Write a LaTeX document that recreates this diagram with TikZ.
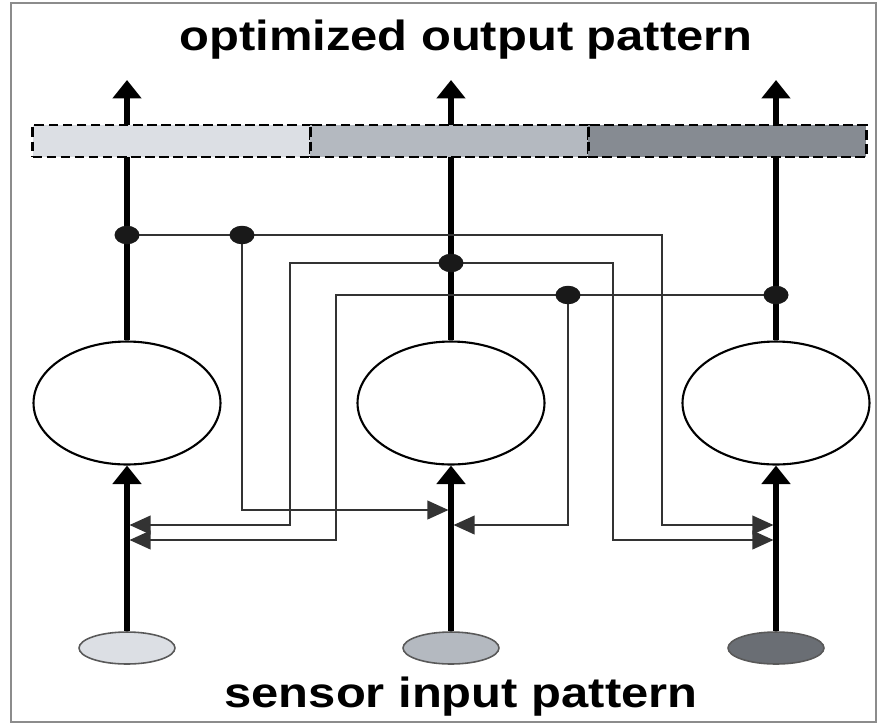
\documentclass[tikz,border=0pt]{standalone}
\usepackage{fontspec}
\setmainfont{Liberation Sans}
\usetikzlibrary{arrows.meta,positioning,shapes.geometric}
\definecolor{shadelight}{RGB}{220,223,228}
\definecolor{shademid}{RGB}{180,185,192}
\definecolor{shadedark}{RGB}{134,139,146}
\definecolor{sensordark}{RGB}{106,110,116}
\definecolor{framegray}{RGB}{140,140,140}

\begin{document}
\begin{tikzpicture}[x=0.02cm,y=-0.02cm,
    neuron/.style={ellipse,draw,line width=1.2pt,minimum width=3.74cm,minimum height=2.46cm,inner sep=0pt},
    sensor/.style={ellipse,draw=black!65,line width=0.9pt,minimum width=1.92cm,minimum height=0.64cm,inner sep=0pt},
    outcell/.style={rectangle,draw,dash pattern=on 5.5pt off 2.5pt,line width=1.5pt,minimum width=5.56cm,minimum height=0.64cm,inner sep=0pt,outer sep=0pt},
    junction/.style={ellipse,fill=black!90,minimum width=0.5cm,minimum height=0.37cm,inner sep=0pt},
    axon/.style={line width=3pt,-{Triangle[length=10.5pt,width=16pt]}},
    lateral/.style={black!80,line width=1.4pt,shorten >=1.4pt,-{Triangle[length=12pt,width=10.5pt]}},
    caption/.style={font=\fontsize{24}{28}\selectfont\bfseries,xscale=1.16}]
      \useasboundingbox (0,0) rectangle (883,725);
      \draw[framegray,line width=1.2pt] (11,3) rectangle (876,722);
      \foreach \i/\x/\s in {1/127/shadelight,2/451/shademid,3/776/sensordark}{
        \node[neuron] (n\i) at (\x,403) {};
        \node[sensor,fill=\s] (s\i) at (\x,648) {};
        \coordinate (t\i) at (\x,80);
        \draw[axon] (s\i) -- (n\i);
        \draw[axon] (n\i) -- (t\i);
      }
      \node[outcell,fill=shadelight] (o1) at (171.5,141) {};
      \node[outcell,fill=shademid,right=0pt of o1] (o2) {};
      \node[outcell,fill=shadedark,right=0pt of o2] (o3) {};
      \coordinate (d1) at (127,235);
      \coordinate (b1) at (242,235);
      \coordinate (d2) at (451,263);
      \coordinate (d3) at (776,295);
      \coordinate (b3) at (568,295);
      \coordinate (i1a) at (127,525);
      \coordinate (i1b) at (127,540);
      \coordinate (i2a) at (451,510);
      \coordinate (i2b) at (451,525);
      \coordinate (i3a) at (776,525);
      \coordinate (i3b) at (776,540);
      \draw[lateral] (d1) -- (662,235) |- (i3a);
      \draw[lateral] (b1) |- (i2a);
      \draw[lateral] (d2) -- (290,263) |- (i1a);
      \draw[lateral] (d2) -- (613,263) |- (i3b);
      \draw[lateral] (d3) -- (336,295) |- (i1b);
      \draw[lateral] (b3) |- (i2b);
      \foreach \p in {d1,b1,d2,d3,b3}
        \node[junction] (j\p) at (\p) {};
      \node[caption] (outlabel) at (466,40) {optimized output pattern};
      \node[caption] (inlabel) at (461,697) {sensor input pattern};
\end{tikzpicture}
\end{document}
